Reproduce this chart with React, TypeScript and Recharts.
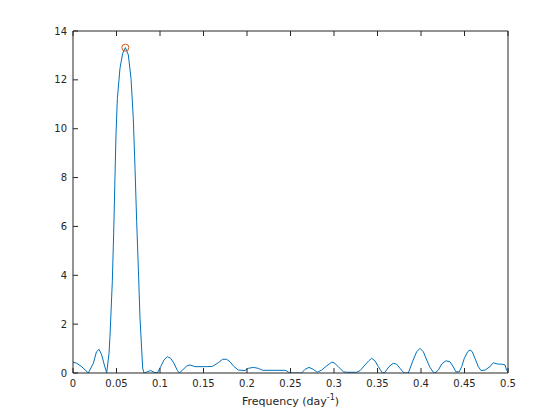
import React from "react";
import { LineChart, Line, XAxis, YAxis, ReferenceDot } from "recharts";

// Periodogram: power vs frequency (day^-1), peak marked with a circle

const freq = [
  0, 0.0042, 0.01, 0.0176, 0.0234, 0.027, 0.03, 0.033, 0.036, 0.0387,
  0.0414, 0.0425, 0.0452, 0.0467, 0.0483, 0.0494, 0.051, 0.054, 0.0571, 0.0602,
  0.0636, 0.0667, 0.0693, 0.0713, 0.0732, 0.0751, 0.077, 0.0801, 0.0816, 0.0855,
  0.0893, 0.0931, 0.097, 0.1008, 0.1046, 0.1084, 0.1123, 0.116, 0.12, 0.1222,
  0.126, 0.1307, 0.1345, 0.1402, 0.1536, 0.16, 0.163, 0.167, 0.172, 0.1766,
  0.1805, 0.1843, 0.19, 0.1977, 0.2015, 0.2073, 0.213, 0.218, 0.2437, 0.2456,
  0.2494, 0.2628, 0.2667, 0.2713, 0.2762, 0.2808, 0.2858, 0.2916, 0.2973, 0.3,
  0.305, 0.3107, 0.3146, 0.326, 0.33, 0.3356, 0.34, 0.3433, 0.347, 0.351,
  0.3556, 0.3586, 0.3632, 0.368, 0.372, 0.3759, 0.3797, 0.3816, 0.3854, 0.391,
  0.395, 0.3989, 0.4027, 0.4066, 0.4103, 0.4142, 0.416, 0.42, 0.4238, 0.4287,
  0.4333, 0.437, 0.44, 0.444, 0.4468, 0.4498, 0.4536, 0.4563, 0.459, 0.462,
  0.4659, 0.469, 0.4736, 0.4793, 0.4831, 0.4877, 0.4927, 0.4966, 0.4985, 0.5,
];

const power = [
  0.44, 0.4, 0.26, 0, 0.4, 0.87, 0.97, 0.74, 0.33, 0,
  0.8, 1.5, 3.74, 5.65, 8.1, 9.74, 11.24, 12.47, 13.09, 13.32,
  13.02, 12.06, 10.43, 8.38, 6.19, 4.29, 2.25, 0.2, 0, 0.05,
  0.1, 0.03, 0, 0.26, 0.53, 0.67, 0.6, 0.4, 0.1, 0,
  0.12, 0.29, 0.33, 0.26, 0.26, 0.27, 0.33, 0.42, 0.56, 0.56,
  0.46, 0.29, 0.12, 0.1, 0.19, 0.23, 0.19, 0.11, 0.11, 0.08,
  0, 0, 0.15, 0.23, 0.15, 0.03, 0.12, 0.29, 0.44, 0.42,
  0.26, 0.05, 0.03, 0.03, 0.1, 0.33, 0.5, 0.6, 0.5, 0.26,
  0, 0.03, 0.26, 0.4, 0.36, 0.19, 0.03, 0, 0, 0.53,
  0.87, 1.01, 0.87, 0.53, 0.23, 0.03, 0, 0.12, 0.37, 0.5,
  0.46, 0.26, 0.05, 0.05, 0.26, 0.6, 0.87, 0.94, 0.87, 0.6,
  0.26, 0.1, 0.12, 0.26, 0.42, 0.37, 0.36, 0.33, 0.1, 0.05,
];

const peakFreq = 0.0602;
const peakPower = 13.32;

const xTicks = [0, 0.05, 0.1, 0.15, 0.2, 0.25, 0.3, 0.35, 0.4, 0.45, 0.5];
const yTicks = [0, 2, 4, 6, 8, 10, 12, 14];

const AXIS = "#262626";
const FONT = "'DejaVu Sans', sans-serif";

const data = freq.map((f, i) => ({ f, p: power[i] }));

const tickStyle = { fontSize: 10, fill: AXIS, fontFamily: FONT };

function FreqLabel(props: any) {
  const { x, width } = props.viewBox;
  return (
    <text
      x={x + width / 2}
      y={405}
      textAnchor="middle"
      fontSize={11}
      fontFamily={FONT}
      fill={AXIS}
    >
      Frequency (day
      <tspan dy={-5} fontSize={8}>
        -1
      </tspan>
      <tspan dy={5}>)</tspan>
    </text>
  );
}

export default function App() {
  return (
    <div style={{ position: "absolute", left: 0, top: 0, width: 560, height: 420, background: "#fff" }}>
      <LineChart
        width={560}
        height={420}
        data={data}
        margin={{ top: 30, right: 51, left: 33, bottom: 17 }}
      >
        <XAxis
          xAxisId="b"
          dataKey="f"
          type="number"
          domain={[0, 0.5]}
          ticks={xTicks}
          allowDataOverflow
          height={30}
          tickSize={-5}
          tickMargin={12}
          tick={tickStyle}
          tickFormatter={(v: number) => String(v)}
          axisLine={{ stroke: AXIS }}
          tickLine={{ stroke: AXIS }}
          label={<FreqLabel />}
        />
        <XAxis
          xAxisId="t"
          orientation="top"
          type="number"
          dataKey="f"
          domain={[0, 0.5]}
          ticks={xTicks}
          height={1}
          tickSize={-5}
          tickFormatter={() => ""}
          axisLine={{ stroke: AXIS }}
          tickLine={{ stroke: AXIS }}
        />
        <YAxis
          yAxisId="l"
          type="number"
          domain={[0, 14]}
          ticks={yTicks}
          allowDataOverflow
          width={40}
          tickSize={-5}
          tickMargin={11}
          tick={tickStyle}
          axisLine={{ stroke: AXIS }}
          tickLine={{ stroke: AXIS }}
        />
        <YAxis
          yAxisId="r"
          orientation="right"
          type="number"
          domain={[0, 14]}
          ticks={yTicks}
          width={1}
          tickSize={-5}
          tickFormatter={() => ""}
          axisLine={{ stroke: AXIS }}
          tickLine={{ stroke: AXIS }}
        />
        <Line
          xAxisId="b"
          yAxisId="l"
          type="linear"
          dataKey="p"
          stroke="#0072BD"
          strokeWidth={1}
          dot={false}
          isAnimationActive={false}
        />
        <ReferenceDot
          xAxisId="b"
          yAxisId="l"
          x={peakFreq}
          y={peakPower}
          r={3.5}
          fill="none"
          stroke="#D95319"
          strokeWidth={1}
        />
      </LineChart>
    </div>
  );
}
